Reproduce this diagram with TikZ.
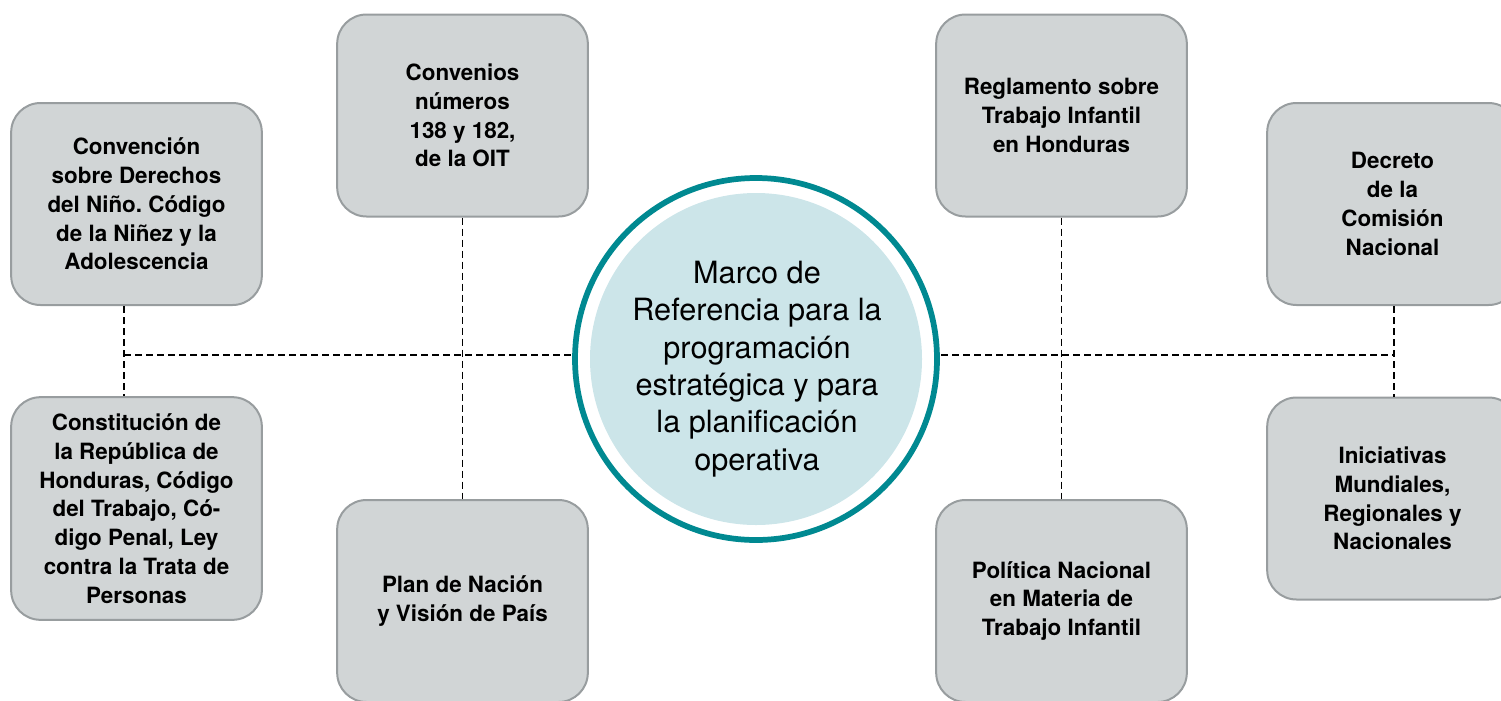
\documentclass[tikz,border=0pt]{standalone}
\usepackage{fontspec}
\setmainfont{TeX Gyre Heros}
\usetikzlibrary{positioning}

\definecolor{boxgray}{RGB}{209,213,214}
\definecolor{boxline}{RGB}{152,157,159}
\definecolor{ringteal}{RGB}{0,137,145}
\definecolor{coreblue}{RGB}{204,229,233}

\tikzset{every picture/.style={line width=0.75pt}}
\tikzset{
  normabox/.style={draw=boxline, line width=1.5pt, fill=boxgray, rounded corners=22pt,
    minimum width=188pt, minimum height=151.5pt, inner sep=0pt, align=center,
    font=\frenchspacing\bfseries\fontsize{16.8}{21.6}\selectfont},
  nucleo/.style={circle, fill=coreblue, minimum size=249pt, inner sep=0pt},
  nucleotexto/.style={align=center, inner sep=0pt, font=\fontsize{23}{28}\selectfont},
  enlace/.style={dash pattern=on 5.25pt off 3pt, line width=1.3pt}
}

\begin{document}
\begin{tikzpicture}[x=0.75pt,y=0.75pt,yscale=-1,xscale=1]
	\useasboundingbox (0,0) rectangle (1501,700);
	\clip (0,0) rectangle (1501,700);

	% boxes on the left
	\node[normabox] (conv) at (136.5,204) {Convención\\sobre Derechos\\del Niño. Código\\de la Niñez y la\\Adolescencia};
	\node[normabox, minimum height=167pt] (const) at (136.5,508.5) {Constitución de\\la República de\\Honduras, Código\\del Trabajo, Có-\\digo Penal, Ley\\contra la Trata de\\Personas};
	\node[normabox] (oit) at (462.5,115.5) {Convenios\\números\\138 y 182,\\de la OIT};
	\node[normabox] (plan) at (462.5,601) {Plan de Nación\\y Visión de País};

	% boxes on the right
	\node[normabox] (regl) at (1061.5,115.5) {Reglamento sobre\\Trabajo Infantil\\en Honduras};
	\node[normabox] (poli) at (1061.5,601) {Política Nacional\\en Materia de\\Trabajo Infantil};
	\node[normabox] (decr) at (1392.5,204) {Decreto\\de la\\Comisión\\Nacional};
	\node[normabox] (inic) at (1392.5,498.5) {Iniciativas\\Mundiales,\\Regionales y\\Nacionales};

	% dashed links
	\coordinate (ejeizq) at (124,355);
	\coordinate (ejeder) at (1394,355);
	\coordinate (anilloizq) at (571,355);
	\coordinate (anilloder) at (941,355);
	\draw[enlace] (conv.south -| ejeizq) -- (const.north -| ejeizq);
	\draw[enlace] (ejeizq) -- (anilloizq);
	\draw[enlace] (oit.south) -- (plan.north);
	\draw[enlace] (regl.south) -- (poli.north);
	\draw[enlace] (anilloder) -- (ejeder);
	\draw[enlace] (decr.south -| ejeder) -- (inic.north -| ejeder);

	% centre
	\node[nucleo] (marco) at (756,359) {};
	\draw[ringteal, line width=4.3pt] (marco.center) circle (181);
	\node[nucleotexto] (marcotexto) at (757,369) {Marco de\\Referencia para la\\programación\\estratégica y para\\la planificación\\operativa};

\end{tikzpicture}
\end{document}
